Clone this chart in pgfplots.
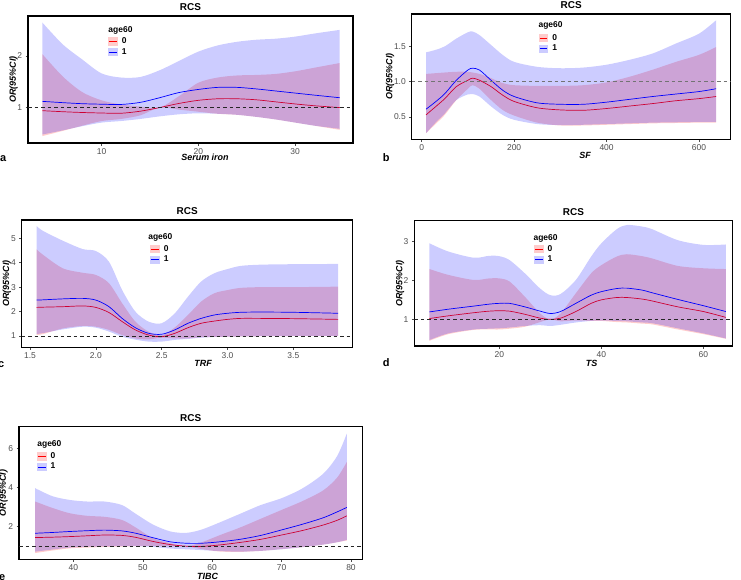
\documentclass[border=0pt]{standalone}
\usepackage{fontspec}
\setmainfont{Liberation Sans}
\usepackage{pgfplots}
\pgfplotsset{compat=1.18}
\usepackage{pgfplotstable}
\usepgfplotslibrary{fillbetween}
\definecolor{ticktxt}{HTML}{4D4D4D}
\definecolor{pinkk}{RGB}{255,204,204}
\definecolor{lavk}{RGB}{204,204,255}
\tikzset{fill between/on layer=main,
  agetitle/.style={anchor=base west, inner sep=0pt, font=\bfseries\fontsize{8.5}{9}\selectfont}}

\pgfplotstableread{
x y0 lo0 hi0 y1 lo1 hi1
3.9 0.94 0.45 2.03 1.12 0.48 2.64
6 0.92 0.55 1.60 1.095 0.56 2.22
8 0.905 0.65 1.30 1.075 0.64 1.93
10 0.895 0.74 1.14 1.065 0.71 1.66
12 0.89 0.78 1.06 1.06 0.74 1.58
14 0.93 0.85 1.02 1.10 0.78 1.59
16 1.0 1.0 1.0 1.19 0.83 1.72
18 1.08 0.96 1.22 1.29 0.87 1.90
20 1.14 0.92 1.48 1.35 0.89 2.08
22 1.17 0.88 1.58 1.39 0.88 2.20
24 1.17 0.86 1.62 1.39 0.86 2.27
26 1.15 0.82 1.63 1.36 0.82 2.31
28 1.11 0.77 1.65 1.32 0.77 2.33
30 1.07 0.71 1.70 1.28 0.71 2.37
32 1.035 0.65 1.77 1.24 0.65 2.43
34.6 1.0 0.57 1.86 1.19 0.59 2.50
}\tabA

\pgfplotstableread{
x y0 lo0 hi0 y1 lo1 hi1
9.4 0.53 0.27 1.11 0.61 0.27 1.415
30 0.645 0.40 1.12 0.715 0.42 1.45
50 0.76 0.53 1.13 0.83 0.55 1.50
75 0.93 0.74 1.14 1.02 0.74 1.61
100 1.02 0.90 1.14 1.165 0.82 1.70
110 1.05 0.95 1.13 1.19 0.825 1.71
125 1.02 0.90 1.11 1.165 0.79 1.66
150 0.93 0.74 1.05 1.02 0.65 1.52
175 0.81 0.60 0.98 0.88 0.53 1.38
200 0.72 0.52 0.95 0.79 0.46 1.28
250 0.63 0.42 0.94 0.70 0.40 1.21
300 0.60 0.38 0.94 0.68 0.385 1.19
350 0.595 0.38 0.95 0.68 0.39 1.20
400 0.62 0.39 0.99 0.71 0.40 1.24
450 0.655 0.40 1.07 0.75 0.41 1.31
500 0.69 0.41 1.17 0.79 0.42 1.40
550 0.73 0.415 1.28 0.825 0.425 1.54
600 0.76 0.42 1.38 0.86 0.43 1.68
637 0.79 0.42 1.49 0.90 0.43 1.87
}\tabB

\pgfplotstableread{
x y0 lo0 hi0 y1 lo1 hi1
1.55 2.17 1.04 4.55 2.47 1.08 5.5
1.6 2.18 1.08 4.32 2.48 1.12 5.30
1.75 2.20 1.31 3.77 2.52 1.27 4.90
1.9 2.23 1.41 3.59 2.54 1.38 4.56
2.0 2.17 1.38 3.50 2.47 1.34 4.48
2.1 1.96 1.25 3.16 2.20 1.18 4.04
2.2 1.59 1.04 2.34 1.72 0.97 2.88
2.3 1.25 0.90 1.59 1.34 0.85 2.0
2.4 1.04 0.86 1.18 1.11 0.77 1.59
2.5 0.97 0.93 1.02 1.07 0.77 1.52
2.6 1.11 0.90 1.35 1.25 0.84 1.93
2.7 1.34 0.90 1.86 1.52 0.88 2.61
2.8 1.52 0.95 2.41 1.72 0.93 3.23
2.9 1.61 0.96 2.75 1.86 0.96 3.57
3.0 1.68 0.97 2.88 1.93 0.97 3.74
3.1 1.72 0.98 2.97 1.97 0.98 3.87
3.25 1.72 0.99 3.0 1.98 0.99 3.92
3.5 1.71 1.0 3.0 1.97 1.0 3.94
3.84 1.68 1.0 3.02 1.93 1.0 3.95
}\tabC

\pgfplotstableread{
x y0 lo0 hi0 y1 lo1 hi1
6.3 1.02 0.45 2.29 1.19 0.47 2.95
10 1.09 0.62 2.14 1.26 0.64 2.74
15 1.17 0.73 2.01 1.34 0.74 2.58
18 1.21 0.74 2.05 1.39 0.76 2.63
20 1.22 0.74 2.05 1.41 0.77 2.62
22 1.21 0.76 1.97 1.41 0.79 2.52
25 1.13 0.81 1.58 1.32 0.83 2.18
28 1.03 0.93 1.15 1.21 0.85 1.79
30 1.0 1.0 1.0 1.15 0.83 1.62
32 1.03 0.95 1.15 1.20 0.86 1.65
35 1.20 0.97 1.67 1.41 0.92 2.01
38 1.41 0.96 2.18 1.62 0.96 2.61
40 1.50 0.96 2.39 1.71 0.97 2.95
43 1.56 0.93 2.61 1.79 0.96 3.31
45 1.56 0.92 2.67 1.80 0.95 3.42
48 1.52 0.89 2.62 1.75 0.92 3.38
50 1.47 0.87 2.56 1.68 0.90 3.31
55 1.32 0.74 2.37 1.51 0.77 3.03
60 1.20 0.62 2.31 1.35 0.64 2.91
64.4 1.05 0.50 2.29 1.20 0.51 2.92
}\tabD

\pgfplotstableread{
x y0 lo0 hi0 y1 lo1 hi1
34.5 1.44 0.65 3.28 1.66 0.72 3.96
37 1.46 0.78 2.95 1.70 0.83 3.55
39.5 1.49 0.89 2.68 1.75 0.93 3.36
42 1.53 0.93 2.55 1.79 0.97 3.28
44.5 1.57 0.96 2.50 1.82 0.99 3.28
47 1.55 0.98 2.34 1.78 1.0 3.10
49 1.45 1.0 1.95 1.66 1.0 2.65
51.5 1.24 1.02 1.40 1.43 0.96 2.10
54 1.08 0.99 1.15 1.22 0.88 1.75
56.3 1.0 0.99 1.0 1.15 0.84 1.68
58.5 0.99 0.85 1.20 1.15 0.80 1.85
61 1.06 0.73 1.55 1.22 0.75 2.20
64 1.19 0.71 1.95 1.35 0.72 2.65
67 1.35 0.76 2.40 1.55 0.76 3.10
70 1.57 0.85 2.85 1.83 0.84 3.45
73 1.80 0.95 3.30 2.12 0.95 3.95
76 2.08 1.08 3.85 2.45 1.08 4.70
78 2.32 1.20 4.50 2.75 1.20 5.60
79.4 2.55 1.29 5.30 2.98 1.32 6.75
}\tabE

\pgfplotsset{
  key0/.style={legend image code/.code={
      \path[draw=none, fill=none] (0bp,0bp) rectangle (13.5bp,0bp);
      \fill[pinkk, draw=none] (0bp,-4.2bp) rectangle (9.5bp,4.2bp);
      \draw[red, line width=0.7bp] (1bp,0bp) -- (8.5bp,0bp);}},
  key1/.style={legend image code/.code={
      \path[draw=none, fill=none] (0bp,0bp) rectangle (13.5bp,0bp);
      \fill[lavk, draw=none] (0bp,-4.2bp) rectangle (9.5bp,4.2bp);
      \draw[blue, line width=0.7bp] (1bp,0bp) -- (8.5bp,0bp);}},
  rcs/.style={
    scale only axis, anchor=north west,
    axis line style={black, line width=1.1bp},
    tick pos=left, tick align=outside, major tick length=2.5bp,
    every tick/.style={ticktxt, line width=0.5bp},
    tick label style={font=\fontsize{8.5}{9}\selectfont, text=ticktxt},
    /pgf/number format/assume math mode=true,
    xticklabel style={inner sep=0pt, anchor=north, yshift=-2.8bp},
    yticklabel style={inner sep=0pt, anchor=east, xshift=-3.2bp},
    title={RCS},
    every axis title shift=0pt,
    title style={font=\bfseries\fontsize{10}{12}\selectfont, at={(0.5,1)}, anchor=base, yshift=5.3bp, inner sep=0pt},
    label style={font=\bfseries\itshape\fontsize{9}{10}\selectfont, inner sep=0pt},
    ylabel={OR(95\%CI)},
    ylabel style={anchor=center},
    legend style={draw=none, fill=none, anchor=north west, inner sep=0pt, outer sep=0pt,
      font=\bfseries\fontsize{8.5}{9}\selectfont, row sep=2bp,
      nodes={inner sep=0pt, text height=6.2bp, text depth=2.3bp}},
    legend cell align=left,
  },
  band/.style={draw=none, smooth, forget plot},
  ln0/.style={red, line width=0.7bp, smooth, key0},
  ln1/.style={blue, line width=0.7bp, smooth, key1},
  refl/.style={black!85, dash pattern=on 3.5bp off 3bp, line width=0.8bp, forget plot},
}

\newcommand{\rcsbands}[1]{%
  \addplot[band, name path=u0] table[x=x,y=hi0]{#1};
  \addplot[band, name path=l0] table[x=x,y=lo0]{#1};
  \addplot[fill=red, fill opacity=0.2, draw=none, forget plot] fill between[of=u0 and l0];
  \addplot[ln0] table[x=x,y=y0]{#1}; \addlegendentry{0}
  \addplot[band, name path=u1] table[x=x,y=hi1]{#1};
  \addplot[band, name path=l1] table[x=x,y=lo1]{#1};
  \addplot[fill=blue, fill opacity=0.2, draw=none, forget plot] fill between[of=u1 and l1];
  \addplot[ln1] table[x=x,y=y1]{#1}; \addlegendentry{1}
}

\begin{document}
\begin{tikzpicture}

% a
\begin{axis}[rcs, at={(28bp,-16bp)}, width=325bp, height=127bp,
  xmin=2.41, xmax=35.97, ymin=0.316, ymax=2.768,
  xtick={10,20,30}, ytick={1,2},
  xlabel={Serum iron},
  xlabel style={at={(axis description cs:0.5,0)}, anchor=base, yshift=-17.9bp, xshift=14.5bp},
  ylabel style={at={(axis description cs:-0.0446,0.5)}},
  legend style={at={(axis description cs:0.247,0.832)}}]
\rcsbands{\tabA}
\addplot[refl] coordinates {(2.41,1) (35.97,1)};
\node[agetitle] at (axis description cs:0.247,0.874) {age60};
\end{axis}

% b
\begin{axis}[rcs, at={(411.7bp,-14bp)}, width=319bp, height=125.3bp,
  xmin=-21.6, xmax=668.5, ymin=0.184, ymax=1.958,
  xtick={0,200,400,600}, ytick={0.5,1.0,1.5},
  yticklabel style={/pgf/number format/.cd, fixed, fixed zerofill, precision=1},
  xlabel={SF},
  xlabel style={at={(axis description cs:0.5,0)}, anchor=base, yshift=-19bp, xshift=14bp},
  ylabel style={at={(axis description cs:-0.068,0.5)}},
  legend style={at={(axis description cs:0.399,0.840)}}]
\rcsbands{\tabB}
\addplot[refl, black!55, line width=1.1bp] coordinates {(-21.6,1) (668.5,1)};
\node[agetitle] at (axis description cs:0.397,0.896) {age60};
\end{axis}

% c
\begin{axis}[rcs, at={(21.7bp,-220bp)}, width=331bp, height=127.3bp,
  xmin=1.437, xmax=3.951, ymin=0.536, ymax=5.75,
  xtick={1.5,2.0,2.5,3.0,3.5}, ytick={1,2,3,4,5},
  xticklabel style={/pgf/number format/.cd, fixed, fixed zerofill, precision=1},
  xlabel={TRF},
  xlabel style={at={(axis description cs:0.5,0)}, anchor=base, yshift=-19.4bp, xshift=16bp},
  ylabel style={at={(axis description cs:-0.0453,0.5)}},
  legend style={at={(axis description cs:0.389,0.804)}}]
\rcsbands{\tabC}
\addplot[refl] coordinates {(1.437,1) (3.951,1)};
\node[agetitle] at (axis description cs:0.382,0.848) {age60};
\end{axis}

% d
\begin{axis}[rcs, at={(414.3bp,-220.7bp)}, width=318.4bp, height=125.3bp,
  xmin=3.33, xmax=65.75, ymin=0.316, ymax=3.53,
  xtick={20,40,60}, ytick={1,2,3},
  xlabel={TS},
  xlabel style={at={(axis description cs:0.5,0)}, anchor=base, yshift=-20bp, xshift=18bp},
  ylabel style={at={(axis description cs:-0.0449,0.5)}},
  legend style={at={(axis description cs:0.376,0.806)}}]
\rcsbands{\tabD}
\addplot[refl] coordinates {(3.33,1) (65.75,1)};
\node[agetitle] at (axis description cs:0.374,0.846) {age60};
\end{axis}

% e
\begin{axis}[rcs, at={(19bp,-426.7bp)}, width=343.3bp, height=132.6bp,
  xmin=32.17, xmax=81.63, ymin=0.33, ymax=7.1,
  xtick={40,50,60,70,80}, ytick={2,4,6},
  xlabel={TIBC},
  xlabel style={at={(axis description cs:0.5,0)}, anchor=base, yshift=-19.7bp, xshift=17bp},
  ylabel style={at={(axis description cs:-0.0451,0.5)}},
  legend style={at={(axis description cs:0.053,0.807)}}]
\rcsbands{\tabE}
\addplot[refl] coordinates {(32.17,1) (81.63,1)};
\node[agetitle] at (axis description cs:0.053,0.849) {age60};
\end{axis}

\begin{scope}[every node/.style={font=\bfseries\fontsize{11}{12}\selectfont, anchor=base west, inner sep=0pt}]
\node at (0bp,-161bp) {a};
\node at (382.7bp,-161.7bp) {b};
\node at (-2bp,-367bp) {c};
\node at (382.7bp,-366.7bp) {d};
\node at (-1bp,-580.5bp) {e};
\end{scope}
\pgfresetboundingbox
\useasboundingbox (0,0) rectangle (741bp,-580bp);
\end{tikzpicture}
\end{document}
